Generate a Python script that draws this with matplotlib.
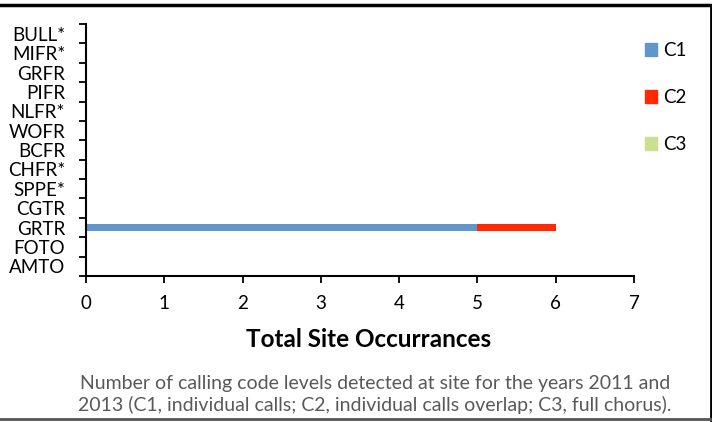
import matplotlib.pyplot as plt
from matplotlib.lines import Line2D
from matplotlib.patches import Patch

plt.rcParams['font.family'] = ['Lato', 'DejaVu Sans']

species = ["BULL*", "MIFR*", "GRFR", "PIFR", "NLFR*", "WOFR", "BCFR",
           "CHFR*", "SPPE*", "CGTR", "GRTR", "FOTO", "AMTO"]
c1 = [0, 0, 0, 0, 0, 0, 0, 0, 0, 0, 5, 0, 0]
c2 = [0, 0, 0, 0, 0, 0, 0, 0, 0, 0, 1, 0, 0]
c3 = [0, 0, 0, 0, 0, 0, 0, 0, 0, 0, 0, 0, 0]

fig = plt.figure(figsize=(7.12, 4.22), dpi=100)
ax = fig.add_axes([0.1208, 0.346, 0.7696, 0.597])

pos = list(range(len(species)))[::-1]
left2 = [a for a in c1]
left3 = [a + b for a, b in zip(c1, c2)]
ax.barh(pos, c1, height=0.36, color="#6196CB", label="C1")
ax.barh(pos, c2, left=left2, height=0.36, color="#FF2A00", label="C2")
ax.barh(pos, c3, left=left3, height=0.36, color="#C9E08F", label="C3")

ax.set_xlim(0, 7)
ax.set_ylim(-0.5, len(species) - 0.5)
ax.set_yticks(pos)
ax.set_yticklabels(species, fontsize=13.5)
ax.set_yticks([p - 0.5 for p in range(len(species) + 1)], minor=True)
ax.tick_params(axis='y', which='major', length=0, pad=15)
ax.tick_params(axis='y', which='minor', length=5, width=1.3, direction='out')
ax.set_xticks(range(8))
ax.tick_params(axis='x', labelsize=13.5, length=5, width=1.3, pad=9)
for s in ["top", "right"]:
    ax.spines[s].set_visible(False)
for s in ["left", "bottom"]:
    ax.spines[s].set_linewidth(1.5)
ax.set_xlabel("Total Site Occurrances", fontsize=17.5, fontweight="bold")
ax.xaxis.set_label_coords(0.515, -0.205)

handles = [Patch(color="#6196CB"), Patch(color="#FF2A00"), Patch(color="#C9E08F")]
fig.legend(handles, ["C1", "C2", "C3"], loc="upper left",
           bbox_to_anchor=(0.882, 0.94), frameon=False, fontsize=13.5,
           handlelength=0.65, handleheight=0.65, handletextpad=0.3,
           labelspacing=1.6)

fig.text(0.527, 0.066,
         "Number of calling code levels detected at site for the years 2011 and\n"
         "2013 (C1, individual calls; C2, individual calls overlap; C3, full chorus).",
         ha="center", va="center", fontsize=14, color="#595959", linespacing=1.25)

fig.add_artist(Line2D([0, 1], [0.988, 0.988], color="black", lw=2.5))
fig.add_artist(Line2D([0.9985, 0.9985], [0.005, 0.988], color="black", lw=2))
fig.add_artist(Line2D([0, 1], [0.006, 0.006], color="#555555", lw=2))

plt.savefig("out.png", dpi=100)
plt.close()
